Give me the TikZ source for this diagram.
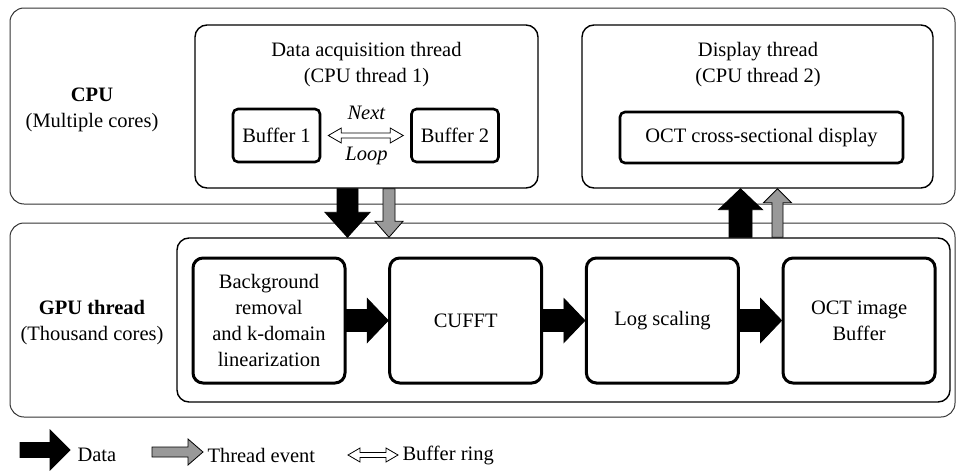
\documentclass[tikz,border=0pt]{standalone}
\usepackage{fontspec}
\setmainfont{Liberation Serif}
\usepackage{tikz}
\usetikzlibrary{calc,positioning}

\tikzset{
  outerbox/.style={draw=black!80, line width=1pt, rounded corners=14pt},
  threadbox/.style={draw, line width=1.4pt, rounded corners=12pt},
  bufbox/.style={draw, line width=2.6pt, rounded corners=5pt, minimum width=87pt, minimum height=53pt},
  stagebox/.style={draw, line width=3pt, rounded corners=10pt, minimum width=152pt, minimum height=125pt, align=center},
  fatline/.style={draw, line width=0.8pt, line join=miter},
  lbl/.style={align=center}
}

% #1 fill, #2 from, #3 to, #4 shaft half width, #5 head half width, #6 head length
\newcommand{\fatarrow}[6][black]{%
  \coordinate (fa-n) at ($(#3)!#6!(#2)$);
  \filldraw[fatline, fill=#1]
    ($(#2)!#4!90:(#3)$) -- ($(fa-n)!#4!90:(#3)$) -- ($(fa-n)!#5!90:(#3)$) -- (#3)
    -- ($(fa-n)!#5!-90:(#3)$) -- ($(fa-n)!#4!-90:(#3)$) -- ($(#2)!#4!-90:(#3)$) -- cycle;
}
% #1 from, #2 to, #3 shaft half width, #4 head half width, #5 head length
\newcommand{\ringarrow}[5]{%
  \coordinate (ra-a) at ($(#1)!#5!(#2)$);
  \coordinate (ra-b) at ($(#2)!#5!(#1)$);
  \filldraw[fatline, fill=white]
    (#1) -- ($(ra-a)!#4!90:(#2)$) -- ($(ra-a)!#3!90:(#2)$) -- ($(ra-b)!#3!-90:(#1)$)
    -- ($(ra-b)!#4!-90:(#1)$) -- (#2) -- ($(ra-b)!#4!90:(#1)$) -- ($(ra-b)!#3!90:(#1)$)
    -- ($(ra-a)!#3!-90:(#2)$) -- ($(ra-a)!#4!-90:(#2)$) -- cycle;
}

\begin{document}
\begin{tikzpicture}[x=1pt, y=-1pt, node distance=196.7pt, on grid,
    font=\fontsize{20.5}{26}\selectfont]
   \useasboundingbox (0,0) rectangle (957,471);

   \node[outerbox, minimum width=945pt, minimum height=196pt] (cpu) at (482.5,106) {};
   \node[outerbox, minimum width=945pt, minimum height=194pt] (gpu) at (482.5,320) {};
   \node[threadbox, minimum width=773pt, minimum height=164pt] (gpuin) at (563.5,320) {};
   \node[threadbox, minimum width=343pt, minimum height=163pt] (acq) at (366.5,106.5) {};
   \node[threadbox, minimum width=351pt, minimum height=163pt] (disp) at (757.5,106.5) {};

   \node[lbl] (cpulbl) at (92,110) {\textbf{CPU}\\(Multiple cores)};
   \node[lbl] (gpulbl) at (92,323) {\textbf{GPU thread}\\(Thousand cores)};
   \node[lbl] (acqlbl) at (366.5,65) {Data acquisition thread\\(CPU thread 1)};
   \node[lbl] (displbl) at (758,64.5) {Display thread\\(CPU thread 2)};

   \node[bufbox] (buf1) at (276.5,135.5) {Buffer 1};
   \node[bufbox] (buf2) [right=178.5pt of buf1] {Buffer 2};
   \node (next) at (366.5,113) {\textit{Next}};
   \node (loop) at (366.5,156) {\textit{Loop}};
   \node[bufbox, minimum width=283pt, minimum height=51pt] (octd) at (761.5,137.5) {OCT cross-sectional display};

   \node[stagebox] (bg) at (269,320.5) {Background\\removal\\and k-domain\\linearization};
   \node[stagebox] (fft) [right=of bg] {CUFFT};
   \node[stagebox] (logs) [right=of fft] {Log scaling};
   \node[stagebox] (octbuf) [right=of logs] {OCT image\\Buffer};

   \coordinate (ra1) at ($(buf1.east)+(7,0)$);
   \coordinate (ra2) at ($(buf2.west)+(-7,0)$);
   \ringarrow{ra1}{ra2}{2.5pt}{7.5pt}{13pt}

   \fatarrow{bg.east}{fft.west}{11pt}{22pt}{21pt}
   \fatarrow{fft.east}{logs.west}{11pt}{22pt}{21pt}
   \fatarrow{logs.east}{octbuf.west}{11pt}{22pt}{21pt}

   \coordinate (dn1) at ($(acq.south)+(-19,0)$);
   \coordinate (dn1e) at (dn1 |- gpuin.north);
   \coordinate (dn2) at ($(acq.south)+(22.5,0)$);
   \coordinate (dn2e) at (dn2 |- gpuin.north);
   \fatarrow{dn1}{dn1e}{10.5pt}{22.5pt}{25pt}
   \fatarrow[black!40]{dn2}{dn2e}{6pt}{14pt}{16pt}

   \coordinate (up1) at ($(disp.south)+(-17,0)$);
   \coordinate (up1s) at (up1 |- gpuin.north);
   \coordinate (up2) at ($(disp.south)+(20,0)$);
   \coordinate (up2s) at (up2 |- gpuin.north);
   \fatarrow{up1s}{up1}{11.5pt}{22pt}{21pt}
   \fatarrow[black!40]{up2s}{up2}{5.5pt}{14pt}{14pt}

   \coordinate (lg1a) at (20,450);
   \coordinate (lg1b) at (70,450);
   \fatarrow{lg1a}{lg1b}{7.5pt}{20pt}{20pt}
   \node[anchor=west] (lgdata) at (74,455) {Data};
   \coordinate (lg2a) at (152,452);
   \coordinate (lg2b) at (203,452);
   \fatarrow[black!40]{lg2a}{lg2b}{5pt}{13pt}{15pt}
   \node[anchor=west] (lgevent) at (204,455) {Thread event};
   \coordinate (lg3a) at (348,455);
   \coordinate (lg3b) at (398,455);
   \ringarrow{lg3a}{lg3b}{2.5pt}{7pt}{12pt}
   \node[anchor=west] (lgring) at (399,455) {Buffer ring};
\end{tikzpicture}
\end{document}
